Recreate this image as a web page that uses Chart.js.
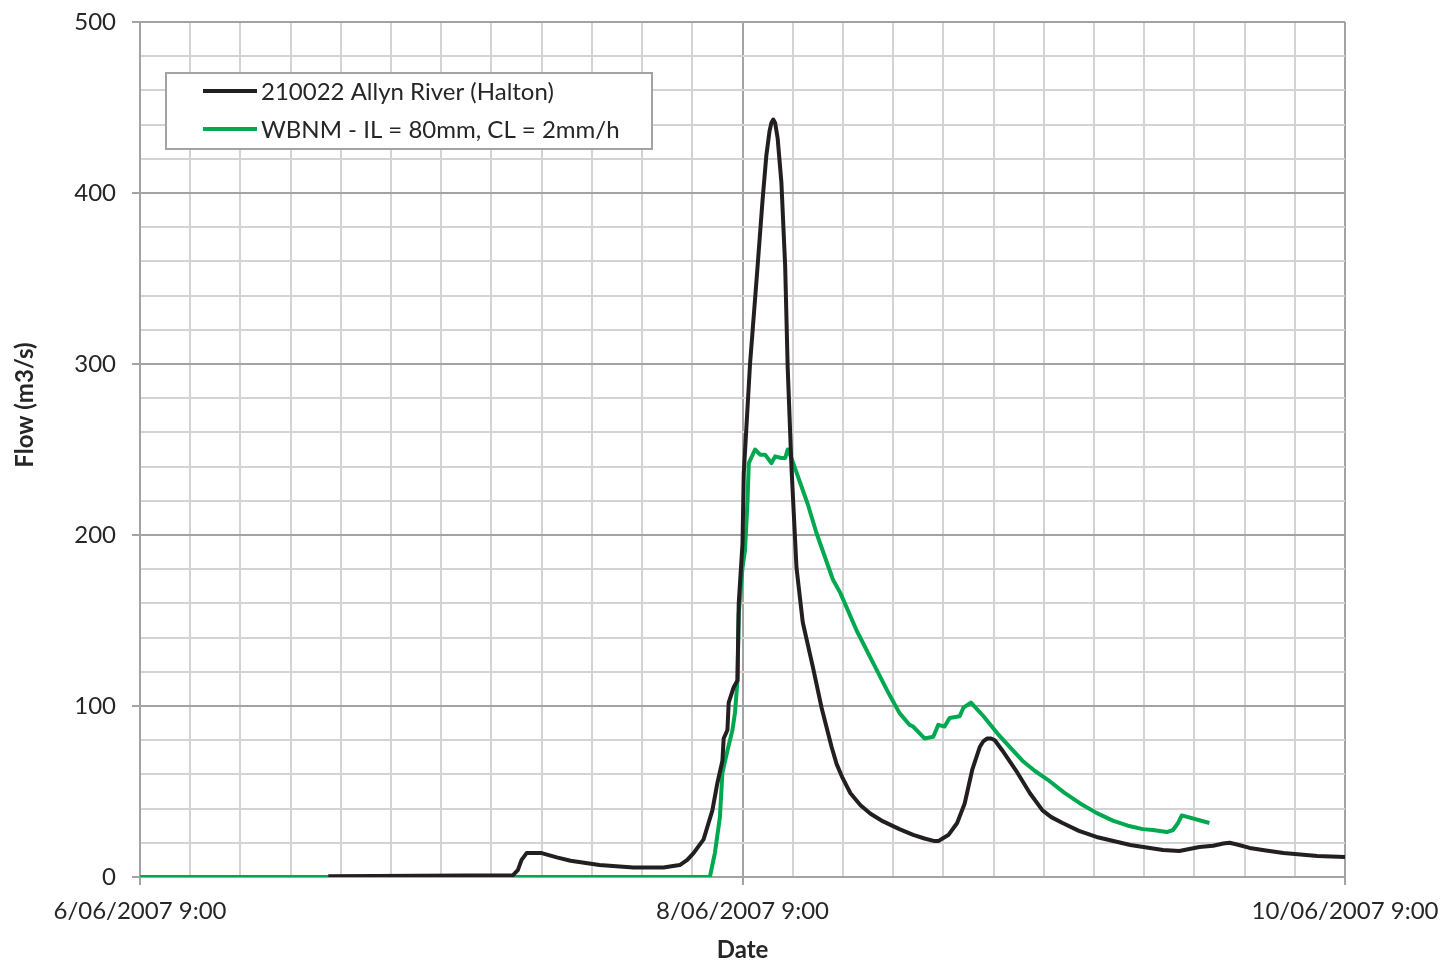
<!DOCTYPE html>
<html><head><meta charset="utf-8">
<style>html,body{margin:0;padding:0;background:#fff}#wrap{width:1442px;height:965px;position:relative}</style>
<script src="https://cdn.jsdelivr.net/npm/chart.js@4.4.1/dist/chart.umd.min.js"></script>
</head><body><div id="wrap"><canvas id="c" width="1442" height="965"></canvas></div>
<script>
// ---- data (hours after 6/06/2007 9:00) ----
const seriesNames = ['210022 Allyn River (Halton)', 'WBNM - IL = 80mm, CL = 2mm/h'];
const xTickHours = [0, 48, 96];
const xTickLabels = ['6/06/2007 9:00', '8/06/2007 9:00', '10/06/2007 9:00'];
const yTickLabels = [0, 100, 200, 300, 400, 500];
const xTitle = 'Date';
const yTitle = 'Flow (m3/s)';

const observedHours = [15, 29.7, 30.1, 30.4, 30.8, 32.0, 33.2, 34.3, 36.6, 39.3, 41.7, 43.0, 43.6, 44.1, 44.9, 45.6, 46.0, 46.4, 46.5, 46.8, 46.9, 47.3, 47.6, 47.7, 48.0, 48.1, 48.6, 49.2, 49.6, 49.9, 50.15, 50.3, 50.45, 50.6, 50.8, 51.1, 51.4, 51.6, 51.9, 52.3, 52.8, 53.6, 54.3, 55.1, 55.5, 56.0, 56.6, 57.4, 58.2, 59.2, 60.5, 61.6, 62.5, 63.3, 63.6, 64.0, 64.4, 65.1, 65.7, 66.3, 66.9, 67.2, 67.5, 67.8, 68.1, 68.7, 69.9, 70.9, 71.9, 72.6, 73.5, 74.8, 76.2, 78.9, 81.5, 82.8, 84.4, 85.5, 86.3, 86.8, 87.4, 88.4, 89.7, 91.1, 93.8, 96.0];
const observedFlow = [0.5, 1, 4, 10, 14, 14, 11.5, 9.5, 7, 5.5, 5.5, 7, 10, 14, 22, 39, 55, 68, 81, 86, 102, 111, 115, 160, 195, 236, 300, 357, 396, 422, 436, 441, 443, 441, 432, 406, 357, 298, 240, 181, 149, 123, 99, 76, 66, 57.5, 49, 42, 37, 32.5, 28, 24.6, 22.5, 21, 21, 22.8, 24.5, 31.6, 43, 62.6, 76, 79.5, 81, 81, 80, 74, 61, 49, 39, 35, 31.6, 27, 23.4, 18.7, 15.8, 15.2, 17.5, 18.3, 19.6, 20, 19, 17, 15.5, 14, 12.3, 11.7];

const modelHours = [0, 45.4, 45.8, 46.2, 46.4, 46.8, 47.2, 47.4, 47.6, 47.7, 48.0, 48.2, 48.4, 48.5, 49.0, 49.4, 49.8, 50.3, 50.6, 51.1, 51.4, 51.6, 51.9, 53.2, 53.9, 55.2, 55.8, 57.1, 58.7, 59.6, 60.5, 61.3, 61.6, 62.5, 63.2, 63.6, 64.1, 64.5, 65.3, 65.6, 66.2, 67.2, 68.3, 69.3, 70.3, 71.3, 72.3, 73.6, 74.9, 76.2, 77.5, 78.7, 79.9, 80.7, 81.8, 82.3, 82.7, 83.0, 85.2];
const modelFlow = [0, 0, 14, 35, 61, 74, 86, 96, 115, 154, 181, 191, 220, 242, 250, 247, 247, 242, 246, 245, 245, 250, 245, 218, 201, 174, 166, 144, 121, 108, 96, 89, 88, 81, 82, 89, 88, 93, 94, 99, 102, 94, 84, 76, 68, 62, 57, 49.5, 43, 37.5, 33, 30, 28, 27.5, 26.3, 27.5, 31.6, 36, 31.6];

// ---- styling ----
const FONT = 'Lato, "Open Sans", sans-serif';
const TXT = '#262626';
const MAJOR = '#a3a3a3';
const MINOR = '#d3d3d3';
const BLACK = '#231f20';
const GREEN = '#00a84f';

const toPts = (xs, ys) => xs.map((x, i) => ({x: x, y: ys[i]}));

const boxLegend = {
  id: 'boxLegend',
  afterDraw(chart) {
    const ctx = chart.ctx, a = chart.chartArea;
    const L = a.left + 26, T = a.top + 51, W = 486, H = 76;
    ctx.save();
    ctx.fillStyle = '#fff';
    ctx.fillRect(L, T, W, H);
    ctx.strokeStyle = MAJOR; ctx.lineWidth = 2;
    ctx.strokeRect(L, T, W, H);
    ctx.font = '24px ' + FONT;
    ctx.textBaseline = 'middle';
    chart.data.datasets.forEach((ds, i) => {
      const y = T + 18 + i * 38;
      ctx.strokeStyle = ds.borderColor; ctx.lineWidth = 4;
      ctx.beginPath(); ctx.moveTo(L + 37, y); ctx.lineTo(L + 91, y); ctx.stroke();
      ctx.fillStyle = TXT;
      ctx.fillText(ds.label, L + 95, y + 1);
    });
    // y-axis title
    ctx.translate(25, 405);
    ctx.rotate(-Math.PI / 2);
    ctx.textAlign = 'center';
    ctx.font = 'bold 24px ' + FONT;
    ctx.fillStyle = TXT;
    ctx.fillText(yTitle, 0, 0);
    ctx.restore();
  }
};

new Chart(document.getElementById('c'), {
  type: 'line',
  data: {
    datasets: [
      {label: seriesNames[0], data: toPts(observedHours, observedFlow), borderColor: BLACK, backgroundColor: BLACK, borderWidth: 4, pointRadius: 0, tension: 0, borderJoinStyle: 'round', fill: false},
      {label: seriesNames[1], data: toPts(modelHours, modelFlow), borderColor: GREEN, backgroundColor: GREEN, borderWidth: 4, pointRadius: 0, tension: 0, borderJoinStyle: 'round', fill: false}
    ]
  },
  options: {
    responsive: false, animation: false, devicePixelRatio: 1,
    layout: {padding: {top: 22, right: 97, left: 0, bottom: 0}},
    plugins: {legend: {display: false}, tooltip: {enabled: false}},
    scales: {
      x: {
        type: 'linear', min: 0, max: 96,
        afterFit(s) { s.height = 88; s.paddingLeft = 0; s.paddingRight = 0; },
        afterBuildTicks(s) { const t = []; for (let v = 0; v <= 96; v += 4) t.push({value: v}); s.ticks = t; },
        ticks: {
          autoSkip: false, maxRotation: 0, padding: 12, color: TXT, font: {family: FONT, size: 24},
          callback: v => { const i = xTickHours.indexOf(v); return i >= 0 ? xTickLabels[i] : ''; }
        },
        grid: {
          lineWidth: 2, tickLength: 8,
          color: c => (c.tick && xTickHours.includes(c.tick.value)) ? MAJOR : MINOR,
          tickColor: c => (c.tick && xTickHours.includes(c.tick.value)) ? MAJOR : 'rgba(0,0,0,0)'
        },
        border: {color: MAJOR, width: 2},
        title: {display: true, text: xTitle, color: TXT, font: {family: FONT, size: 24, weight: 'bold'}, padding: {top: 0, bottom: 0}}
      },
      y: {
        min: 0, max: 500,
        afterFit(s) { s.width = 140; s.paddingTop = 0; s.paddingBottom = 0; },
        afterBuildTicks(s) { const t = []; for (let v = 0; v <= 500; v += 20) t.push({value: v}); s.ticks = t; },
        ticks: {
          padding: 16, color: TXT, font: {family: FONT, size: 24},
          callback: v => yTickLabels.includes(v) ? String(v) : ''
        },
        grid: {
          lineWidth: 2, tickLength: 8,
          color: c => (c.tick && yTickLabels.includes(c.tick.value)) ? MAJOR : MINOR,
          tickColor: c => (c.tick && yTickLabels.includes(c.tick.value)) ? MAJOR : 'rgba(0,0,0,0)'
        },
        border: {color: MAJOR, width: 2}
      }
    }
  },
  plugins: [boxLegend]
});
</script></body></html>
